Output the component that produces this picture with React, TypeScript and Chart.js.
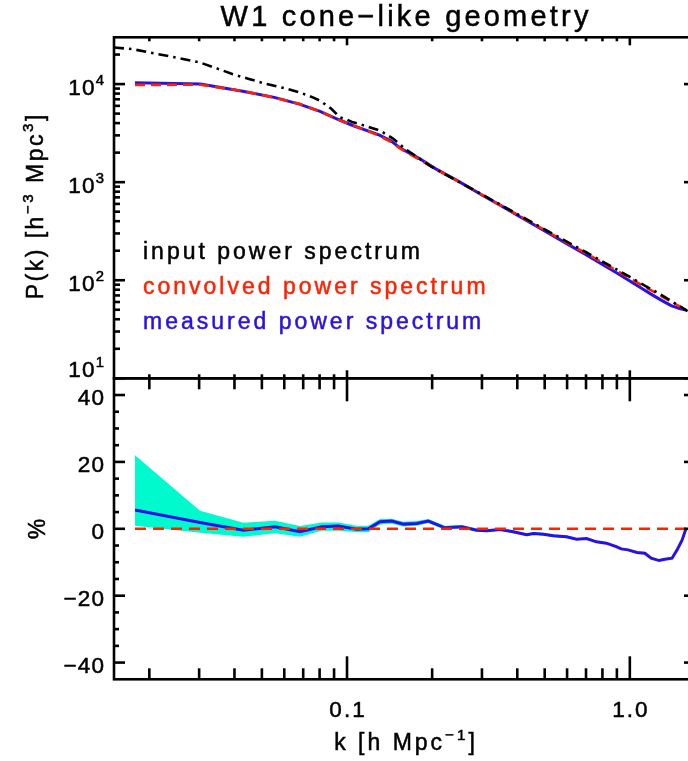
import React, { useEffect, useRef } from 'react';
import { Chart, registerables } from 'chart.js';

Chart.register(...registerables);

// ---------------- DATA ----------------
const X_MIN = 0.015;
const X_MAX = 1.7;
const TOP_Y_MIN = 10;
const TOP_Y_MAX = 30000;
const BOT_Y_MIN = -45;
const BOT_Y_MAX = 45;

const titleText = 'W1 cone\u2212like geometry';

// k bins of the convolved / measured spectra (h/Mpc)
const kBins = [0.0178, 0.0303, 0.0428, 0.0553, 0.0678, 0.0803, 0.0928, 0.1053, 0.1178, 0.1303, 0.1428, 0.1553, 0.1803, 0.2053, 0.25, 0.3, 0.35, 0.4, 0.5, 0.6, 0.7, 0.8, 0.9, 1.0, 1.1, 1.2, 1.3, 1.4, 1.5, 1.58];
const convolvedP = [9800, 9850, 8500, 7280, 6300, 5250, 4350, 3770, 3350, 2960, 2580, 2170, 1700, 1370, 1000, 743, 578, 466, 324, 241, 188, 151, 125, 105, 89.5, 77.8, 68.2, 60.5, 54.1, 49.7];
const measuredP = [10350, 10030, 8470, 7320, 6240, 5280, 4380, 3760, 3350, 3020, 2640, 2200, 1740, 1375, 1006, 739, 576, 460, 319, 235, 182.5, 145, 118.4, 98, 83, 70.9, 61.9, 55.2, 51.4, 49.7];

// input spectrum
const kInput = [0.015, 0.0175, 0.02, 0.025, 0.0302, 0.035, 0.0395, 0.045, 0.052, 0.06, 0.0682, 0.075, 0.0803, 0.088, 0.0945, 0.1, 0.105, 0.11, 0.12, 0.131, 0.145, 0.16, 0.2, 0.3, 0.5, 0.7, 1.0, 1.3, 1.6];
const inputP = [23600, 22700, 21000, 18600, 16600, 14300, 12600, 11300, 10000, 9100, 8200, 7400, 6770, 5600, 4570, 4340, 4070, 3950, 3630, 3350, 2800, 2200, 1420, 750, 330, 193, 108, 70, 48.5];

// residual (measured / convolved - 1) in %
const kRes = [0.0178, 0.0302, 0.043, 0.0557, 0.0682, 0.0814, 0.0932, 0.1082, 0.1189, 0.1308, 0.1439, 0.1583, 0.1764, 0.1939, 0.2219, 0.2545, 0.2877, 0.3119, 0.3477, 0.387, 0.432, 0.456, 0.495, 0.537, 0.598, 0.648, 0.703, 0.762, 0.826, 0.895, 0.932, 0.985, 1.06, 1.13, 1.19, 1.27, 1.33, 1.41, 1.47, 1.53, 1.58];
const residualPct = [5.6, 1.9, -0.4, 0.6, -0.9, 0.6, 0.8, -0.1, 0.0, 2.1, 2.3, 1.4, 1.6, 2.3, 0.3, 0.6, -0.4, -0.6, -0.2, -0.9, -1.8, -1.4, -1.6, -2.1, -2.4, -3.1, -2.9, -3.9, -4.3, -5.3, -6.0, -6.3, -7.1, -7.3, -8.8, -9.5, -9.1, -8.8, -6.3, -3.4, 0.1];
const bandUpper = [22.0, 5.4, 1.8, 2.4, 0.8, 1.9, 1.9, 0.9, 0.9, 2.9, 3.0, 2.1, 2.3, 2.9, 0.9, 1.1, 0.1, -0.2, 0.2, -0.5, -1.4, -1.0, -1.2, -1.7, -2.0, -2.8, -2.6, -3.6, -4.0, -5.0, -5.7, -6.0, -6.8, -7.0, -8.5, -9.2, -8.8, -8.5, -6.0, -3.1, 0.4];
const bandLower = [0.9, -1.2, -2.4, -1.3, -2.4, -0.6, -0.6, -1.0, -1.0, 1.3, 1.5, 0.7, 0.9, 1.7, -0.3, 0.1, -0.9, -1.0, -0.6, -1.3, -2.2, -1.8, -2.0, -2.5, -2.8, -3.4, -3.2, -4.2, -4.6, -5.6, -6.3, -6.6, -7.4, -7.6, -9.1, -9.8, -9.4, -9.1, -6.6, -3.7, -0.2];
const zeroK = [0.0178, 1.58];
const zeroV = [0, 0];

// ticks
const xMajorTicks = [0.1, 1.0];
const xMajorLabels = ['0.1', '1.0'];
const xMinorTicks = [0.02, 0.03, 0.04, 0.05, 0.06, 0.07, 0.08, 0.09, 0.2, 0.3, 0.4, 0.5, 0.6, 0.7, 0.8, 0.9];
const topYMajor = [10, 100, 1000, 10000];
const topYExp = ['1', '2', '3', '4'];
const topYMinor = [20, 30, 40, 50, 60, 70, 80, 90, 200, 300, 400, 500, 600, 700, 800, 900, 2000, 3000, 4000, 5000, 6000, 7000, 8000, 9000, 20000];
const botYMajor = [-40, -20, 0, 20, 40];
const botYLabels = ['\u221240', '\u221220', '0', '20', '40'];
const botYMinor = [-35, -30, -25, -15, -10, -5, 5, 10, 15, 25, 30, 35];

const legendLabels = ['input power spectrum', 'convolved power spectrum', 'measured power spectrum'];

// ---------------- STYLE ----------------
const W = 700;
const H = 761;
const BLUE = '#2a10e8';
const RED = '#ff2200';
const CYAN = 'rgb(0,250,205)';
const FONT = "'Liberation Sans', Arial, sans-serif";
const PLOT_LEFT = 114;
const PLOT_RIGHT = 695;
const TOP_TOP = 37.3;
const SPLIT = 378.3;
const BOT_BOTTOM = 679.3;

type Seg = { t: string; sup?: boolean };

function charsOf(segs: Seg[], size: number) {
  const out: { ch: string; size: number; rise: number }[] = [];
  segs.forEach((s) => {
    for (const ch of Array.from(s.t)) {
      out.push({ ch, size: s.sup ? size * 0.66 : size, rise: s.sup ? size * 0.45 : 0 });
    }
  });
  return out;
}

function drawSegs(ctx: CanvasRenderingContext2D, segs: Seg[], x: number, yMid: number, size: number, spacing: number, align: 'left' | 'center' | 'right', color: string) {
  const chars = charsOf(segs, size);
  const widths = chars.map((c) => {
    ctx.font = `${c.size}px ${FONT}`;
    return ctx.measureText(c.ch).width;
  });
  const total = widths.reduce((a, b) => a + b, 0) + spacing * (chars.length - 1);
  let cx = align === 'left' ? x : align === 'center' ? x - total / 2 : x - total;
  const base = yMid + size * 0.36;
  ctx.fillStyle = color;
  ctx.strokeStyle = color;
  ctx.lineWidth = 0.5;
  ctx.setLineDash([]);
  ctx.textBaseline = 'alphabetic';
  ctx.textAlign = 'left';
  chars.forEach((c, i) => {
    ctx.font = `${c.size}px ${FONT}`;
    ctx.fillText(c.ch, cx, base - c.rise);
    ctx.strokeText(c.ch, cx, base - c.rise);
    cx += widths[i] + spacing;
  });
}

function tick(ctx: CanvasRenderingContext2D, x1: number, y1: number, x2: number, y2: number) {
  ctx.beginPath();
  ctx.moveTo(x1, y1);
  ctx.lineTo(x2, y2);
  ctx.stroke();
}

function drawFrame(chart: any, xMaj: number, xMin: number, yMaj: number, yMin: number, yMajorVals: number[], yMinorVals: number[]) {
  const { ctx, chartArea: a, scales } = chart;
  const xs = scales.x;
  const ys = scales.y;
  ctx.save();
  ctx.strokeStyle = '#000';
  ctx.lineWidth = 2.6;
  ctx.lineCap = 'butt';
  ctx.setLineDash([]);
  ctx.strokeRect(a.left, a.top, a.right - a.left, a.bottom - a.top);
  xMajorTicks.forEach((v) => {
    const p = xs.getPixelForValue(v);
    tick(ctx, p, a.bottom, p, a.bottom - xMaj);
    tick(ctx, p, a.top, p, a.top + xMaj);
  });
  xMinorTicks.forEach((v) => {
    const p = xs.getPixelForValue(v);
    tick(ctx, p, a.bottom, p, a.bottom - xMin);
    tick(ctx, p, a.top, p, a.top + xMin);
  });
  yMajorVals.forEach((v) => {
    const p = ys.getPixelForValue(v);
    tick(ctx, a.left, p, a.left + yMaj, p);
    tick(ctx, a.right, p, a.right - yMaj, p);
  });
  yMinorVals.forEach((v) => {
    const p = ys.getPixelForValue(v);
    tick(ctx, a.left, p, a.left + yMin, p);
    tick(ctx, a.right, p, a.right - yMin, p);
  });
  ctx.restore();
}

const topPlugin = {
  id: 'topDecor',
  afterDraw(chart: any) {
    const { ctx, chartArea: a, scales } = chart;
    drawFrame(chart, 8, 4, 11, 6, topYMajor, topYMinor);
    ctx.save();
    topYMajor.forEach((v, i) => {
      let p = scales.y.getPixelForValue(v);
      p = i === 0 ? p - 9 : p + 2.5;
      drawSegs(ctx, [{ t: '10' }, { t: topYExp[i], sup: true }], 104, p, 22.5, 1.2, 'right', '#000');
    });
    drawSegs(ctx, [{ t: titleText }], (a.left + a.right) / 2, 16, 29, 3.2, 'center', '#000');
    ctx.save();
    ctx.translate(35, 207);
    ctx.rotate(-Math.PI / 2);
    drawSegs(ctx, [{ t: 'P(k) [h' }, { t: '\u22123', sup: true }, { t: ' Mpc' }, { t: '3', sup: true }, { t: ']' }], 0, 0, 23, 2.5, 'center', '#000');
    ctx.restore();
    const colors = ['#000', RED, BLUE];
    legendLabels.forEach((l, i) => {
      drawSegs(ctx, [{ t: l }], 143, 251 + i * 35, 23, 3.0, 'left', colors[i]);
    });
    ctx.restore();
  },
};

const botPlugin = {
  id: 'botDecor',
  afterDraw(chart: any) {
    const { ctx, chartArea: a, scales } = chart;
    drawFrame(chart, 23, 11, 11, 5, botYMajor, botYMinor);
    ctx.save();
    botYMajor.forEach((v, i) => {
      const p = scales.y.getPixelForValue(v) + 2;
      drawSegs(ctx, [{ t: botYLabels[i] }], 104, p, 22.5, 1.2, 'right', '#000');
    });
    xMajorTicks.forEach((v, i) => {
      const p = scales.x.getPixelForValue(v);
      drawSegs(ctx, [{ t: xMajorLabels[i] }], p, 709, 22.5, 2, 'center', '#000');
    });
    drawSegs(ctx, [{ t: 'k [h Mpc' }, { t: '\u22121', sup: true }, { t: ']' }], (a.left + a.right) / 2, 742, 23, 3, 'center', '#000');
    ctx.save();
    ctx.translate(37, 529);
    ctx.rotate(-Math.PI / 2);
    drawSegs(ctx, [{ t: '%' }], 0, 0, 23, 0, 'center', '#000');
    ctx.restore();
    ctx.restore();
  },
};

const pts = (xs: number[], ys: number[]) => xs.map((x, i) => ({ x, y: ys[i] }));

export default function App() {
  const topRef = useRef<HTMLCanvasElement>(null);
  const botRef = useRef<HTMLCanvasElement>(null);

  useEffect(() => {
    const common = {
      responsive: false,
      animation: false as const,
      events: [] as any[],
      plugins: { legend: { display: false }, tooltip: { enabled: false } },
      elements: { point: { radius: 0 }, line: { tension: 0 } },
    };
    const top = new Chart(topRef.current!, {
      type: 'line',
      data: {
        datasets: [
          { data: pts(kInput, inputP), borderColor: '#000', borderWidth: 2.6, borderDash: [10, 5, 2.5, 5], fill: false, pointRadius: 0 },
          { data: pts(kBins, convolvedP), borderColor: RED, borderWidth: 2.6, borderDash: [10, 6], fill: false, pointRadius: 0 },
          { data: pts(kBins, measuredP), borderColor: BLUE, borderWidth: 3, fill: false, pointRadius: 0 },
        ],
      },
      options: {
        ...common,
        layout: { padding: { left: PLOT_LEFT, right: W - PLOT_RIGHT, top: TOP_TOP, bottom: H - SPLIT } },
        scales: {
          x: { type: 'logarithmic', min: X_MIN, max: X_MAX, display: false },
          y: { type: 'logarithmic', min: TOP_Y_MIN, max: TOP_Y_MAX, display: false },
        },
      } as any,
      plugins: [topPlugin],
    });
    const bot = new Chart(botRef.current!, {
      type: 'line',
      data: {
        datasets: [
          { data: pts(zeroK, zeroV), borderColor: RED, borderWidth: 2.6, borderDash: [11, 7], fill: false, pointRadius: 0 },
          { data: pts(kRes, residualPct), borderColor: BLUE, borderWidth: 3, fill: false, pointRadius: 0 },
          { data: pts(kRes, bandUpper), borderColor: CYAN, borderWidth: 0, backgroundColor: CYAN, fill: '+1', pointRadius: 0 },
          { data: pts(kRes, bandLower), borderColor: CYAN, borderWidth: 0, fill: false, pointRadius: 0 },
        ],
      },
      options: {
        ...common,
        layout: { padding: { left: PLOT_LEFT, right: W - PLOT_RIGHT, top: SPLIT, bottom: H - BOT_BOTTOM } },
        scales: {
          x: { type: 'logarithmic', min: X_MIN, max: X_MAX, display: false },
          y: { type: 'linear', min: BOT_Y_MIN, max: BOT_Y_MAX, display: false },
        },
      } as any,
      plugins: [botPlugin],
    });
    return () => {
      top.destroy();
      bot.destroy();
    };
  }, []);

  return (
    <div style={{ position: 'fixed', left: 0, top: 0, width: 688, height: 761, overflow: 'hidden', background: '#fff' }}>
      <canvas ref={topRef} width={W} height={H} style={{ position: 'absolute', left: 0, top: 0, width: W, height: H }} />
      <canvas ref={botRef} width={W} height={H} style={{ position: 'absolute', left: 0, top: 0, width: W, height: H }} />
    </div>
  );
}
